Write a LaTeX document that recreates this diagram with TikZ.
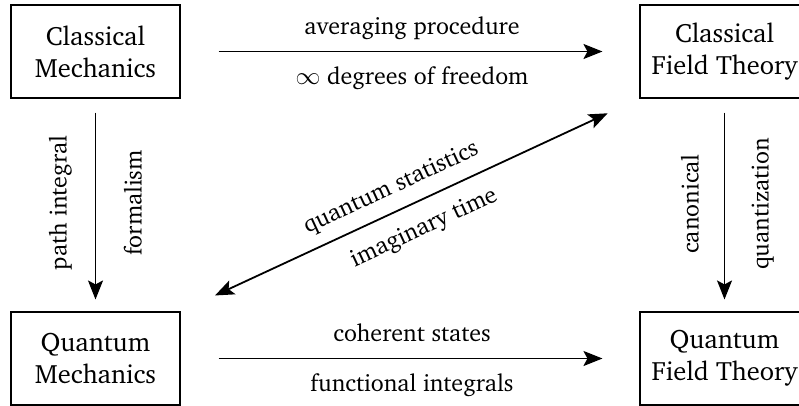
\documentclass[tikz,border=0pt]{standalone}
\usepackage[T1]{fontenc}
\usepackage{charter}
\usetikzlibrary{arrows.meta}
\tikzset{
  box/.style={draw, line width=1.1pt, minimum width=169pt, minimum height=93pt, align=center, inner sep=0pt, font=\fontsize{26.5}{32}\selectfont},
  tip/.tip={Stealth[length=19pt,width=15pt,inset=4pt]},
  arr/.style={line width=1.8pt, -tip},
  darr/.style={line width=1.8pt, tip-tip},
  lab/.style={font=\fontsize{24}{28}\selectfont, inner sep=0pt, anchor=base}
}
\begin{document}
\begin{tikzpicture}[x=1pt,y=-1pt]
\useasboundingbox (0,0) rectangle (799,406);
\clip (0,0) rectangle (799,406);
\node[box] (CM) at (95.5,51.5) {Classical\\Mechanics};
\node[box] (CFT) at (724.5,51.5) {Classical\\Field Theory};
\node[box] (QM) at (95.5,358.5) {Quantum\\Mechanics};
\node[box] (QFT) at (724.5,358.5) {Quantum\\Field Theory};
\draw[arr, shorten <=38pt, shorten >=37pt] (CM) -- (CFT)
  node[lab, midway, xshift=2pt, yshift=17pt] {averaging procedure}
  node[lab, midway, xshift=2pt, yshift=-33pt] {$\infty$ degrees of freedom};
\draw[arr, shorten <=38pt, shorten >=37pt] (QM) -- (QFT)
  node[lab, midway, xshift=2pt, yshift=17pt] {coherent states}
  node[lab, midway, xshift=2pt, yshift=-33pt] {functional integrals};
\draw[arr, shorten <=14pt, shorten >=12pt] (CM) -- (QM)
  node[lab, midway, rotate=90, xshift=2pt, yshift=29pt] {path integral}
  node[lab, midway, rotate=90, xshift=2pt, yshift=-46pt] {formalism};
\draw[arr, shorten <=14pt, shorten >=12pt] (CFT) -- (QFT)
  node[lab, midway, rotate=90, xshift=1pt, yshift=26pt] {canonical}
  node[lab, midway, rotate=90, xshift=1pt, yshift=-44pt] {quantization};
\draw[darr, shorten <=38pt, shorten >=35pt] (QM.north east) -- (CFT.south west)
  node[lab, anchor=center, midway, sloped, yshift=23pt, xshift=-10pt] {quantum statistics}
  node[lab, anchor=center, midway, sloped, yshift=-27pt, xshift=3pt] {imaginary time};
\end{tikzpicture}
\end{document}
